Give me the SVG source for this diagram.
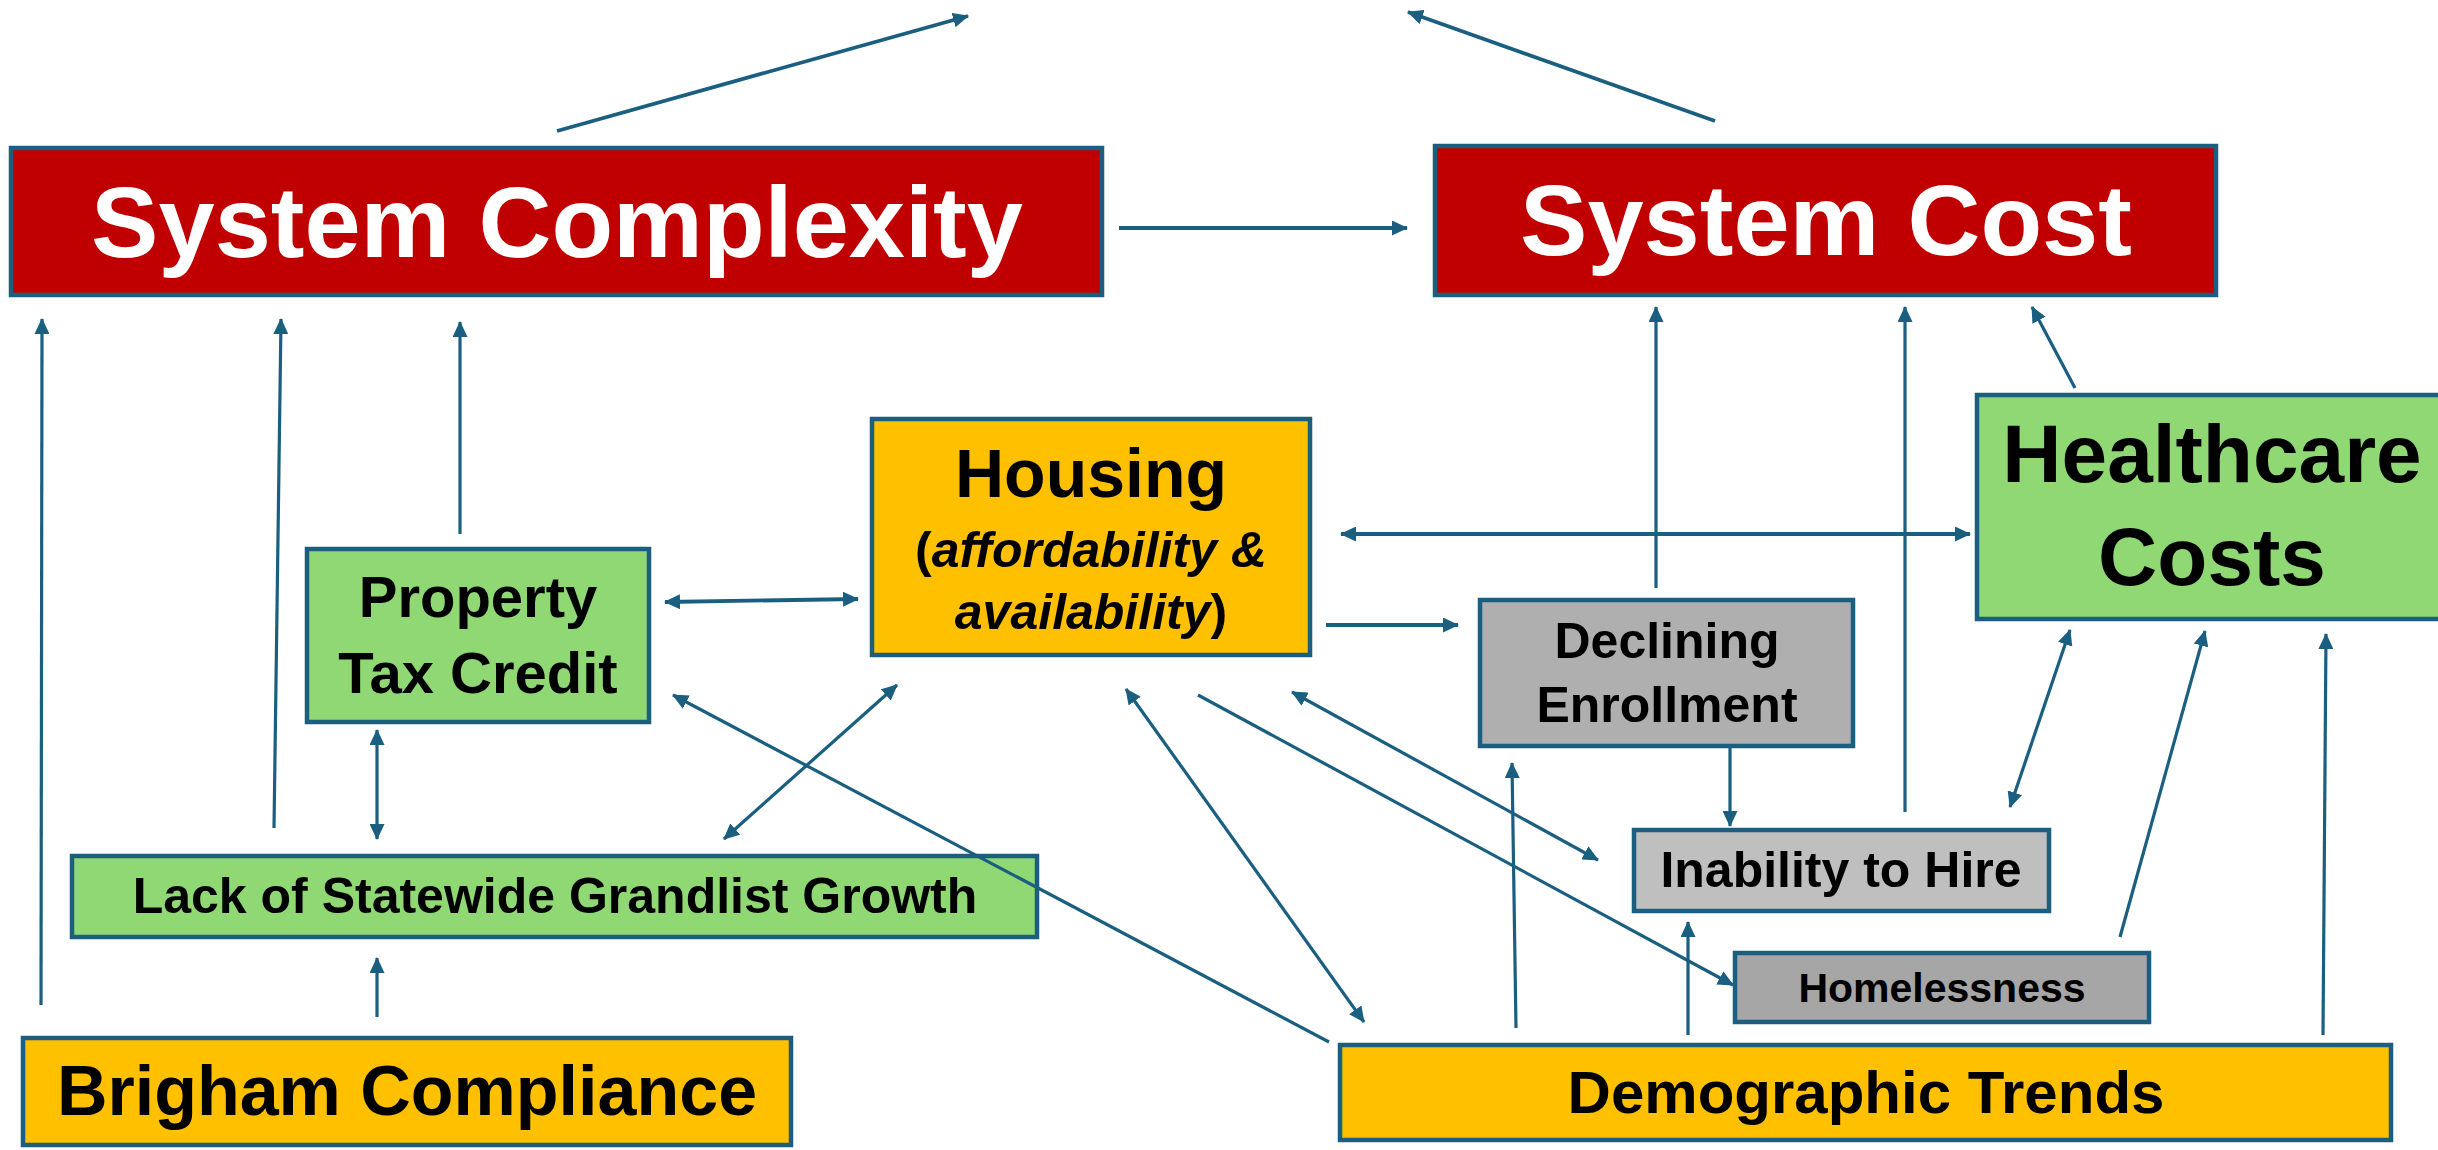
<svg xmlns="http://www.w3.org/2000/svg" width="2438" height="1150" viewBox="0 0 2438 1150">
<style>
.box{stroke:#1b5e7f;stroke-width:4.5}
.red{fill:#c00000}
.yel{fill:#ffc000}
.grn{fill:#8fd874}
.g1{fill:#afafaf}
.g2{fill:#bfbfbf}
.g3{fill:#a6a6a6}
text{font-family:"Liberation Sans",Arial,sans-serif;font-weight:bold;text-anchor:middle;fill:#000}
.wt{fill:#fff;font-size:101px}
.c{fill:none;stroke:#1b5f80;stroke-width:3.2}
.t{stroke-width:3.8}
</style>
<defs>
<marker id="ah" viewBox="0 0 16 15" refX="15" refY="7.5" markerWidth="16" markerHeight="15" markerUnits="userSpaceOnUse" orient="auto-start-reverse">
<path d="M0,0 L16,7.5 L0,15 z" fill="#1b5f80"/>
</marker>
</defs>
<rect width="2438" height="1150" fill="#fff"/>

<g id="system-complexity">
<rect class="box red" x="11" y="148" width="1091" height="147"/>
<text class="wt" x="557" y="257">System Complexity</text>
</g>
<g id="system-cost">
<rect class="box red" x="1435" y="146" width="781" height="149"/>
<text class="wt" x="1826" y="255">System Cost</text>
</g>
<g id="housing">
<rect class="box yel" x="872" y="419" width="438" height="236"/>
<text x="1091" y="497" font-size="68">Housing</text>
<text x="1091" y="567" font-size="50">(<tspan font-style="italic">affordability &amp;</tspan></text>
<text x="1091" y="629" font-size="50"><tspan font-style="italic">availability</tspan>)</text>
</g>
<g id="property-tax-credit">
<rect class="box grn" x="307" y="549" width="342" height="173"/>
<text x="478" y="617" font-size="58">Property</text>
<text x="478" y="693" font-size="58">Tax Credit</text>
</g>
<g id="declining-enrollment">
<rect class="box g1" x="1480" y="600" width="373" height="146"/>
<text x="1667" y="658" font-size="50">Declining</text>
<text x="1667" y="722" font-size="50">Enrollment</text>
</g>
<g id="healthcare-costs">
<rect class="box grn" x="1977" y="395" width="480" height="224"/>
<text x="2212" y="482" font-size="82">Healthcare</text>
<text x="2212" y="585" font-size="82">Costs</text>
</g>
<g id="lack-of-grandlist-growth">
<rect class="box grn" x="72" y="856" width="965" height="81"/>
<text x="555" y="913" font-size="50">Lack of Statewide Grandlist Growth</text>
</g>
<g id="inability-to-hire">
<rect class="box g2" x="1634" y="830" width="415" height="81"/>
<text x="1841" y="887" font-size="50">Inability to Hire</text>
</g>
<g id="homelessness">
<rect class="box g3" x="1735" y="953" width="414" height="69"/>
<text x="1942" y="1002" font-size="41">Homelessness</text>
</g>
<g id="brigham-compliance">
<rect class="box yel" x="23" y="1038" width="768" height="107"/>
<text x="407" y="1115" font-size="70">Brigham Compliance</text>
</g>
<g id="demographic-trends">
<rect class="box yel" x="1340" y="1045" width="1051" height="95"/>
<text x="1866" y="1113" font-size="60">Demographic Trends</text>
</g>

<g id="connectors">
<line class="c t" x1="557" y1="131" x2="968" y2="16" marker-end="url(#ah)"/>
<line class="c t" x1="1715" y1="121" x2="1408" y2="12" marker-end="url(#ah)"/>
<line class="c t" x1="1119" y1="228" x2="1407" y2="228" marker-end="url(#ah)"/>
<line class="c" x1="41" y1="1005" x2="42" y2="319" marker-end="url(#ah)"/>
<line class="c" x1="274" y1="828" x2="281" y2="319" marker-end="url(#ah)"/>
<line class="c" x1="460" y1="534" x2="460" y2="322" marker-end="url(#ah)"/>
<line class="c t" x1="665" y1="602" x2="858" y2="599" marker-start="url(#ah)" marker-end="url(#ah)"/>
<line class="c" x1="377" y1="730" x2="377" y2="839" marker-start="url(#ah)" marker-end="url(#ah)"/>
<line class="c" x1="377" y1="1017" x2="377" y2="958" marker-end="url(#ah)"/>
<line class="c" x1="724" y1="839" x2="897" y2="685" marker-start="url(#ah)" marker-end="url(#ah)"/>
<line class="c" x1="1329" y1="1042" x2="673" y2="695" marker-end="url(#ah)"/>
<line class="c" x1="1126" y1="689" x2="1364" y2="1022" marker-start="url(#ah)" marker-end="url(#ah)"/>
<line class="c" x1="1292" y1="692" x2="1598" y2="860" marker-start="url(#ah)" marker-end="url(#ah)"/>
<line class="c" x1="1198" y1="695" x2="1733" y2="985" marker-end="url(#ah)"/>
<line class="c t" x1="1326" y1="625" x2="1458" y2="625" marker-end="url(#ah)"/>
<line class="c t" x1="1341" y1="534" x2="1970" y2="534" marker-start="url(#ah)" marker-end="url(#ah)"/>
<line class="c" x1="1656" y1="588" x2="1656" y2="307" marker-end="url(#ah)"/>
<line class="c" x1="1905" y1="812" x2="1905" y2="307" marker-end="url(#ah)"/>
<line class="c" x1="2075" y1="388" x2="2032" y2="307" marker-end="url(#ah)"/>
<line class="c" x1="1730" y1="748" x2="1730" y2="826" marker-end="url(#ah)"/>
<line class="c" x1="2070" y1="630" x2="2010" y2="807" marker-start="url(#ah)" marker-end="url(#ah)"/>
<line class="c" x1="2120" y1="937" x2="2205" y2="631" marker-end="url(#ah)"/>
<line class="c" x1="2323" y1="1035" x2="2326" y2="634" marker-end="url(#ah)"/>
<line class="c" x1="1516" y1="1028" x2="1512" y2="763" marker-end="url(#ah)"/>
<line class="c" x1="1688" y1="1035" x2="1688" y2="922" marker-end="url(#ah)"/>
</g>
</svg>
